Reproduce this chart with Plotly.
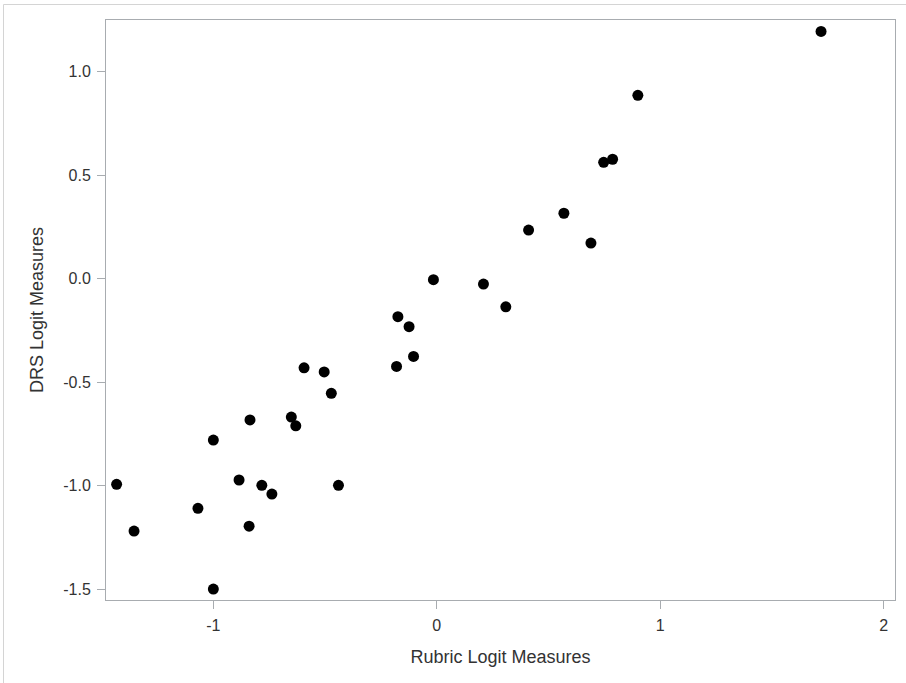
import plotly.graph_objects as go

rubric = [1.72, 0.90, 0.747, 0.787, 0.569, 0.411, 0.690, -0.015, 0.209, 0.309,
          -0.174, -0.124, -0.104, -0.180, -0.594, -0.504, -0.472, -0.836, -0.651, -0.631,
          -1.0, -0.885, -0.783, -0.738, -0.440, -1.069, -0.840, -1.433, -1.355, -1.0]
drs = [1.195, 0.886, 0.562, 0.577, 0.316, 0.235, 0.172, -0.005, -0.026, -0.136,
       -0.184, -0.232, -0.376, -0.424, -0.431, -0.451, -0.554, -0.683, -0.669, -0.711,
       -0.780, -0.973, -0.999, -1.041, -0.999, -1.110, -1.196, -0.994, -1.220, -1.5]

x_ticks = [-1, 0, 1, 2]
y_ticks = [1.0, 0.5, 0.0, -0.5, -1.0, -1.5]
y_tick_labels = ["1.0", "0.5", "0.0", "-0.5", "-1.0", "-1.5"]

FONT = "Liberation Sans, Arial"
TXT = "#333333"

fig = go.Figure()
fig.add_trace(go.Scatter(
    x=rubric, y=drs, mode="markers",
    marker=dict(color="black", size=11, line=dict(width=0)),
    showlegend=False, hoverinfo="x+y",
))

axis_common = dict(
    showgrid=False, zeroline=False, showline=True, mirror=True,
    linecolor="#a8acb0", linewidth=1,
    ticks="outside", ticklen=8, tickcolor="#a8acb0", tickwidth=1,
    tickfont=dict(family=FONT, size=16, color=TXT),
)

fig.update_layout(
    width=906, height=683,
    margin=dict(l=106, r=11, t=20, b=83),
    paper_bgcolor="white", plot_bgcolor="white",
    xaxis=dict(range=[-1.4805, 2.051], tickvals=x_ticks, ticktext=[str(v) for v in x_ticks],
               ticklabelstandoff=3,
               title=dict(text="Rubric Logit Measures", standoff=17,
                          font=dict(family=FONT, size=18, color=TXT)),
               **axis_common),
    yaxis=dict(range=[-1.553, 1.25], tickvals=y_ticks, ticktext=y_tick_labels,
               ticklabelstandoff=3,
               title=dict(text="DRS Logit Measures", standoff=14,
                          font=dict(family=FONT, size=18, color=TXT)),
               **axis_common),
    shapes=[dict(type="rect", xref="paper", yref="paper",
                 x0=(3.5 - 106) / 789, x1=1.2, y0=-0.3, y1=1 + (20 - 4.5) / 580,
                 line=dict(color="#d4d4d4", width=1), layer="below")],
)

fig.write_html("out.html", config={"displayModeBar": False},
               post_script="document.body.style.margin='0px';")
